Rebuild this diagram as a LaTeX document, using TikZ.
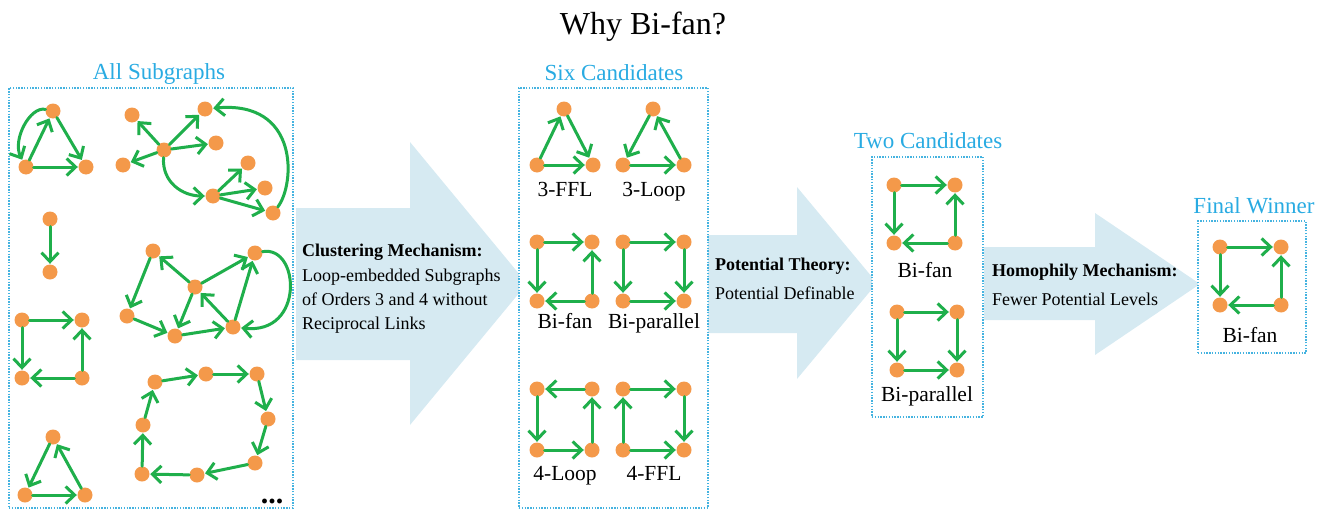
\documentclass[tikz,border=0pt]{standalone}
\usepackage{fontspec}
\setmainfont{Liberation Serif}
\usetikzlibrary{arrows.meta}
\definecolor{ngreen}{HTML}{1FAF4B}
\definecolor{norange}{HTML}{F4994A}
\definecolor{ncyan}{HTML}{29ABE2}
\definecolor{nboxline}{HTML}{45B3E0}
\definecolor{nblue}{HTML}{D6EAF2}
\begin{document}
\begin{tikzpicture}[x=1pt,y=-1pt,
  vtx/.style={circle, fill=norange, inner sep=0pt, minimum size=15pt},
  lnk/.style={draw=ngreen, line width=3pt, line cap=round, line join=round,
    -{Straight Barb[length=9pt,width=17pt,line width=3pt]}, shorten >=0.5pt},
  gbox/.style={draw=nboxline, fill=white, dash pattern=on 1.4pt off 1.4pt, line width=1.2pt, inner sep=0pt},
  bigarrow/.style={fill=nblue},
  cyanlbl/.style={text=ncyan, font=\fontsize{23}{26}\selectfont, anchor=base, inner sep=0pt},
  motif/.style={font=\fontsize{21.5}{24}\selectfont, anchor=base, inner sep=0pt},
  mech/.style={font=\fontsize{18}{22}\selectfont, anchor=base west, inner sep=0pt},
]
\useasboundingbox (0,0) rectangle (1329,511);

% title
\node[font=\fontsize{32}{36}\selectfont, anchor=base, inner sep=0pt] (title) at (643,35) {Why Bi-fan?};

% big arrows
\fill[bigarrow] (296,208) -- (410,208) -- (410,142) -- (527,283.5) -- (410,425) -- (410,360) -- (296,360) -- cycle;
\fill[bigarrow] (708,235) -- (797,235) -- (797,187) -- (877,283) -- (797,379) -- (797,333) -- (708,333) -- cycle;
\fill[bigarrow] (984,247) -- (1095,247) -- (1095,213) -- (1200,284) -- (1095,355) -- (1095,320) -- (984,320) -- cycle;

% mechanism texts
\node[mech] (c1t) at (302,256) {\textbf{Clustering Mechanism:}};
\node[mech] (c2t) at (302,281) {Loop-embedded Subgraphs};
\node[mech] (c3t) at (302,305) {of Orders 3 and 4 without};
\node[mech] (c4t) at (302,329) {Reciprocal Links};
\node[mech] (p1t) at (715,270) {\textbf{Potential Theory:}};
\node[mech] (p2t) at (715,299) {Potential Definable};
\node[mech] (h1t) at (992,276) {\textbf{Homophily Mechanism:}};
\node[mech] (h2t) at (992,305) {Fewer Potential Levels};

% boxes
\node[gbox, minimum width=284pt, minimum height=420pt] (box1) at (151,298) {};
\node[gbox, minimum width=189pt, minimum height=420pt] (box2) at (613.5,298) {};
\node[gbox, minimum width=111pt, minimum height=260pt] (box3) at (927.5,287) {};
\node[gbox, minimum width=108pt, minimum height=132pt] (box4) at (1252,287) {};

% box labels
\node[cyanlbl] (l1) at (159,79) {All Subgraphs};
\node[cyanlbl] (l2) at (614,80) {Six Candidates};
\node[cyanlbl] (l3) at (928,148) {Two Candidates};
\node[cyanlbl] (l4) at (1254,213) {Final Winner};

% ---------- Box 1: all subgraphs ----------
% graph A
\node[vtx] (a1) at (53,111) {};
\node[vtx] (a2) at (26,167) {};
\node[vtx] (a3) at (86,167) {};
\draw[lnk] (a1) .. controls (30,106) and (12,140) .. (a2);
\draw[lnk] (a2) -- (a1);
\draw[lnk] (a1) -- (a3);
\draw[lnk] (a2) -- (a3);
% graph B
\node[vtx] (b1) at (132,115) {};
\node[vtx] (b2) at (164,150) {};
\node[vtx] (b3) at (123,165) {};
\node[vtx] (b4) at (205,109) {};
\node[vtx] (b5) at (216,143) {};
\node[vtx] (b6) at (248,163) {};
\node[vtx] (b7) at (213,196) {};
\node[vtx] (b8) at (265,188) {};
\node[vtx] (b9) at (273,213) {};
\draw[lnk] (b2) -- (b1);
\draw[lnk] (b2) -- (b3);
\draw[lnk] (b2) -- (b4);
\draw[lnk] (b2) -- (b5);
\draw[lnk] (b2) .. controls (162,182) and (182,196) .. (b7);
\draw[lnk] (b7) -- (b6);
\draw[lnk] (b7) -- (b8);
\draw[lnk] (b7) -- (b9);
\draw[lnk] (b9) .. controls (295,185) and (300,100) .. (b4);
% graph C
\node[vtx] (c1) at (50,219) {};
\node[vtx] (c2) at (50,272) {};
\draw[lnk] (c1) -- (c2);
% graph D
\node[vtx] (d1) at (153,251) {};
\node[vtx] (d2) at (255,253) {};
\node[vtx] (d3) at (195,287) {};
\node[vtx] (d4) at (127,316) {};
\node[vtx] (d5) at (175,336) {};
\node[vtx] (d6) at (233,327) {};
\draw[lnk] (d1) -- (d4);
\draw[lnk] (d4) -- (d5);
\draw[lnk] (d3) -- (d1);
\draw[lnk] (d3) -- (d2);
\draw[lnk] (d3) -- (d5);
\draw[lnk] (d5) -- (d6);
\draw[lnk] (d6) -- (d3);
\draw[lnk] (d6) -- (d2);
\draw[lnk] (d2) .. controls (300,245) and (305,335) .. (d6);
% graph E
\node[vtx] (e1) at (22,320) {};
\node[vtx] (e2) at (82,320) {};
\node[vtx] (e3) at (22,378) {};
\node[vtx] (e4) at (82,378) {};
\draw[lnk] (e1) -- (e2);
\draw[lnk] (e1) -- (e3);
\draw[lnk] (e4) -- (e3);
\draw[lnk] (e4) -- (e2);
% graph F
\node[vtx] (f1) at (53,437) {};
\node[vtx] (f2) at (25,495) {};
\node[vtx] (f3) at (85,495) {};
\draw[lnk] (f1) -- (f2);
\draw[lnk] (f2) -- (f3);
\draw[lnk] (f3) -- (f1);
% graph G
\node[vtx] (g1) at (155,382) {};
\node[vtx] (g2) at (206,374) {};
\node[vtx] (g3) at (257,374) {};
\node[vtx] (g4) at (268,419) {};
\node[vtx] (g5) at (255,463) {};
\node[vtx] (g6) at (197,475) {};
\node[vtx] (g7) at (142,474) {};
\node[vtx] (g8) at (143,425) {};
\draw[lnk] (g1) -- (g2);
\draw[lnk] (g2) -- (g3);
\draw[lnk] (g3) -- (g4);
\draw[lnk] (g4) -- (g5);
\draw[lnk] (g5) -- (g6);
\draw[lnk] (g6) -- (g7);
\draw[lnk] (g7) -- (g8);
\draw[lnk] (g8) -- (g1);
\node[font=\fontsize{30}{30}\selectfont\bfseries, anchor=base, inner sep=0pt] (dots) at (272,503) {...};

% ---------- Box 2: six candidates ----------
% 3-FFL
\node[vtx] (h1) at (564,109) {};
\node[vtx] (h2) at (537,165) {};
\node[vtx] (h3) at (593,165) {};
\draw[lnk] (h2) -- (h1);
\draw[lnk] (h1) -- (h3);
\draw[lnk] (h2) -- (h3);
\node[motif] (h) at (565,196) {3-FFL};
% 3-Loop
\node[vtx] (i1) at (653,109) {};
\node[vtx] (i2) at (623,165) {};
\node[vtx] (i3) at (684,165) {};
\draw[lnk] (i1) -- (i2);
\draw[lnk] (i2) -- (i3);
\draw[lnk] (i3) -- (i1);
\node[motif] (i) at (654,196) {3-Loop};
% Bi-fan
\node[vtx] (j1) at (537,242) {};
\node[vtx] (j2) at (592,242) {};
\node[vtx] (j3) at (537,301) {};
\node[vtx] (j4) at (592,301) {};
\draw[lnk] (j1) -- (j2);
\draw[lnk] (j1) -- (j3);
\draw[lnk] (j4) -- (j2);
\draw[lnk] (j4) -- (j3);
\node[motif] (j) at (565,328) {Bi-fan};
% Bi-parallel
\node[vtx] (k1) at (623,242) {};
\node[vtx] (k2) at (684,242) {};
\node[vtx] (k3) at (623,301) {};
\node[vtx] (k4) at (684,301) {};
\draw[lnk] (k1) -- (k2);
\draw[lnk] (k1) -- (k3);
\draw[lnk] (k2) -- (k4);
\draw[lnk] (k3) -- (k4);
\node[motif] (k) at (654,328) {Bi-parallel};
% 4-Loop
\node[vtx] (m1) at (537,389) {};
\node[vtx] (m2) at (592,389) {};
\node[vtx] (m3) at (537,450) {};
\node[vtx] (m4) at (592,450) {};
\draw[lnk] (m2) -- (m1);
\draw[lnk] (m1) -- (m3);
\draw[lnk] (m3) -- (m4);
\draw[lnk] (m4) -- (m2);
\node[motif] (m) at (565,480) {4-Loop};
% 4-FFL
\node[vtx] (n1) at (623,389) {};
\node[vtx] (n2) at (684,389) {};
\node[vtx] (n3) at (623,450) {};
\node[vtx] (n4) at (684,450) {};
\draw[lnk] (n1) -- (n2);
\draw[lnk] (n2) -- (n4);
\draw[lnk] (n3) -- (n4);
\draw[lnk] (n3) -- (n1);
\node[motif] (n) at (654,480) {4-FFL};

% ---------- Box 3: two candidates ----------
\node[vtx] (p1) at (894,185) {};
\node[vtx] (p2) at (955,185) {};
\node[vtx] (p3) at (894,243) {};
\node[vtx] (p4) at (955,243) {};
\draw[lnk] (p1) -- (p2);
\draw[lnk] (p1) -- (p3);
\draw[lnk] (p4) -- (p2);
\draw[lnk] (p4) -- (p3);
\node[motif] (p) at (925,277) {Bi-fan};
\node[vtx] (q1) at (897,312) {};
\node[vtx] (q2) at (957,312) {};
\node[vtx] (q3) at (897,370) {};
\node[vtx] (q4) at (957,370) {};
\draw[lnk] (q1) -- (q2);
\draw[lnk] (q1) -- (q3);
\draw[lnk] (q2) -- (q4);
\draw[lnk] (q3) -- (q4);
\node[motif] (q) at (927,401) {Bi-parallel};

% ---------- Box 4: final winner ----------
\node[vtx] (r1) at (1220,247) {};
\node[vtx] (r2) at (1281,247) {};
\node[vtx] (r3) at (1220,305) {};
\node[vtx] (r4) at (1281,305) {};
\draw[lnk] (r1) -- (r2);
\draw[lnk] (r1) -- (r3);
\draw[lnk] (r4) -- (r2);
\draw[lnk] (r4) -- (r3);
\node[motif] (r) at (1250,342) {Bi-fan};
\end{tikzpicture}
\end{document}
